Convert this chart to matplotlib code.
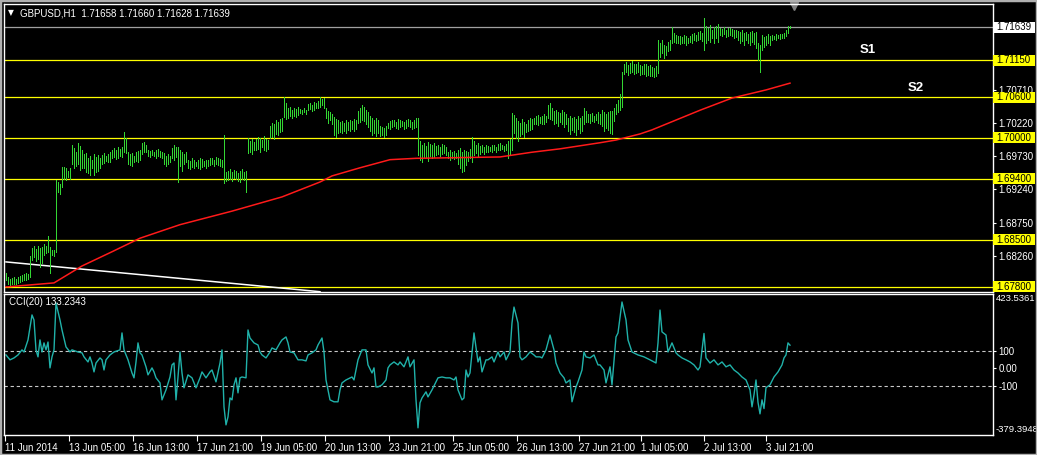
import numpy as np
import matplotlib; matplotlib.use('Agg')
import matplotlib.pyplot as plt
from matplotlib.patches import Rectangle
from matplotlib.transforms import IdentityTransform, blended_transform_factory
plt.rcParams['font.family'] = ['Liberation Sans', 'DejaVu Sans']

# GBPUSD H1 bars, high/low in pips above 1.6700 (one per hour, oldest first)
bar_high = [
    101, 95, 92, 93, 94, 92, 95, 96, 97, 99, 100, 99, 126,
    138, 140, 136, 141, 137, 139, 143, 140, 156, 139, 135, 134, 238,
    235, 232, 257, 257, 255, 252, 256, 290, 285, 280, 292, 288, 282, 276,
    278, 270, 274, 268, 276, 272, 275, 270, 275, 278, 274, 277, 279,
    283, 285, 282, 286, 284, 287, 309, 300, 280, 276, 278, 274, 279, 281, 283,
    292, 294, 290, 282, 281, 283, 280, 282, 284, 281, 279, 278, 274, 276, 273,
    285, 289, 286, 287, 282, 279, 276, 280,
    268, 266, 270, 267, 265, 268, 271, 269, 266, 268,
    268, 270, 271, 268, 272, 270, 269, 267, 304,
    250, 252, 254, 250, 253, 251, 249, 252, 254, 250, 252,
    300, 296, 298, 294, 298, 302, 300, 297, 303, 299, 297,
    318, 322, 320, 326, 324, 328, 330, 360, 352,
    344, 346, 342, 345, 343, 346, 343, 342, 344, 341,
    350, 352, 349, 353, 351, 354, 360, 358, 359, 345, 340, 338, 336, 331, 328, 326,
    323, 325, 322, 326, 324, 327, 325, 328, 327, 340, 344, 349, 346, 342,
    338, 332, 329, 326, 330, 327, 318, 316, 315, 318,
    322, 325, 327, 326, 324, 328, 327, 325, 323, 326, 328, 327, 324, 326, 329, 330,
    296, 290, 293, 288, 294, 291, 289, 292, 288, 290, 287, 291, 289, 286,
    280, 282, 279, 281, 278, 282, 285, 280, 283, 281, 280, 284, 301,
    296, 290, 292, 288, 290, 286, 289,
    288, 286, 290, 289, 287, 291, 292, 290, 288, 291, 295, 298, 337,
    334, 330, 325, 322, 328, 324, 321, 326, 330, 328,
    330, 332, 334, 331, 333, 335, 332, 349, 352,
    344, 340, 342, 338, 337, 341, 339, 336, 330, 332, 329, 331, 328, 333, 330, 332,
    345, 340, 336, 335, 337, 333, 335, 338, 336, 341, 338, 336, 339, 340,
    340, 345, 350, 356, 365, 397,
    410, 412, 408, 411, 413, 409, 410, 412, 408, 407, 410, 409, 406, 408, 405, 404, 406,
    445, 440, 445, 438, 436, 442, 444, 464,
    455, 452, 450, 451, 449, 452, 450, 448, 451, 453, 455, 452, 456, 458, 455, 477,
    465, 462, 467, 460, 464, 466, 468,
    463, 461, 464, 460, 462, 463, 461, 459, 460,
    458, 456, 459, 455, 457, 454, 456, 458, 455, 457, 440, 437,
    452, 449, 451, 453, 450, 452, 451, 453, 452, 454, 453, 455, 460, 466, 466,
]
bar_low = [
    90, 85, 83, 84, 85, 84, 86, 87, 89, 90, 91, 92, 95,
    120, 124, 119, 122, 110, 116, 127, 130, 131, 101, 127, 126, 132,
    220, 218, 228, 240, 238, 242, 240, 262, 255, 258, 262, 253, 256, 255,
    250, 248, 245, 255, 246, 250, 252, 256, 262, 263, 266, 264, 265,
    270, 272, 269, 271, 273, 272, 280, 278, 262, 260, 258, 264, 266, 265, 268,
    277, 279, 280, 274, 272, 275, 273, 271, 274, 272, 270, 262, 258, 261, 264,
    270, 268, 272, 235, 258, 252, 262, 265,
    256, 254, 257, 255, 258, 256, 254, 257, 259, 255,
    258, 260, 261, 259, 262, 260, 258, 257, 234,
    236, 238, 240, 236, 241, 239, 237, 235, 240, 238, 220,
    278, 280, 276, 282, 282, 284, 280, 286, 283, 281, 284,
    300, 302, 298, 306, 304, 309, 310, 331, 328,
    330, 332, 329, 333, 331, 334, 337, 336, 338, 336,
    341, 343, 340, 342, 344, 345, 346, 348, 345, 330, 322, 326, 320, 305, 302, 308,
    309, 307, 311, 308, 312, 310, 313, 311, 314, 322, 324, 326, 325, 320,
    316, 310, 305, 308, 303, 307, 303, 304, 302, 305,
    315, 314, 316, 317, 315, 313, 316, 317, 314, 315, 317, 316, 314, 315, 316, 275,
    268, 265, 272, 270, 266, 274, 271, 272, 275, 277, 274, 276, 278, 275,
    270, 268, 271, 269, 270, 262, 255, 250, 252, 260, 266, 270, 264,
    275, 278, 273, 276, 279, 277, 280,
    279, 281, 280, 282, 280, 283, 282, 284, 281, 283, 270, 275, 282,
    308, 300, 296, 303, 306, 302, 309, 310, 312, 314,
    320, 321, 319, 322, 320, 321, 323, 330, 328,
    326, 320, 322, 318, 323, 320, 316, 321, 310, 306, 312, 309, 305, 313, 308, 311,
    320, 323, 324, 322, 325, 323, 326, 322, 321, 318, 310, 315, 312, 308,
    306, 325, 336, 338, 342, 346,
    395, 397, 393, 396, 398, 394, 396, 397, 393, 394, 395, 392, 393, 391, 392, 390, 391,
    396, 420, 426, 418, 422, 428, 430, 440,
    442, 440, 441, 439, 441, 440, 438, 440, 442, 441, 444, 443, 445, 446, 443, 430,
    440, 445, 442, 447, 441, 448, 442,
    452, 450, 453, 449, 451, 452, 450, 448, 449,
    445, 440, 443, 438, 444, 441, 437, 442, 439, 433, 415, 397,
    430, 435, 438, 440, 437, 445, 446, 445, 447, 446, 448, 447, 450, 455, 463,
]

# moving average (red) and trend line (white), read at a few bars
ma_bar = [0, 24, 38, 53, 67, 87, 113, 138, 157, 163, 177, 192, 205, 247, 263, 277,
          297, 305, 317, 323, 347, 363, 380, 392]
ma_pips = [80, 86, 111, 132, 152, 172, 192, 213, 235, 244, 256, 268, 270, 272, 279, 284,
           293, 297, 306, 312, 341, 359, 371, 381]
trend_bar = [0, 157]
trend_pips = [117, 73]

levels = [1.71150, 1.70600, 1.70000, 1.69400, 1.68500, 1.67800]
bid = 1.71639
price_ticks = [1.68260, 1.68750, 1.69240, 1.69730, 1.70220, 1.70710, 1.71200]

cci_bar = [0, 2, 4, 6, 8, 9, 11, 13, 14, 15, 16, 17, 18, 19, 20, 21, 22, 23, 24, 25, 27, 28,
           30, 32, 33, 36, 38, 39, 41, 42, 43, 44, 45, 47, 48, 49, 50, 52, 54, 57, 58, 59, 61,
           63, 64, 65, 66, 67, 68, 70, 71, 73, 74, 75, 77, 78, 80, 82, 83, 84, 85, 86, 87, 88,
           89, 91, 93, 95, 97, 98, 100, 102, 103, 105, 107, 108, 109, 110, 111, 112, 113, 114,
           115, 116, 117, 118, 120, 121, 122, 124, 126, 127, 128, 130, 132, 133, 135, 137, 138,
           140, 141, 142, 144, 146, 148, 150, 151, 153, 155, 156, 158, 159, 160, 162, 164, 166,
           167, 168, 170, 173, 174, 176, 178, 180, 181, 183, 184, 185, 186, 188, 190, 191, 192,
           194, 196, 197, 199, 201, 202, 204, 205, 206, 207, 208, 210, 211, 213, 215, 216, 218,
           220, 222, 224, 225, 226, 228, 229, 230, 231, 232, 234, 236, 237, 238, 240, 241, 243,
           244, 246, 247, 249, 250, 252, 253, 254, 256, 257, 258, 260, 262, 264, 265, 267, 268,
           270, 272, 274, 275, 277, 279, 280, 282, 283, 285, 286, 288, 289, 290, 292, 294, 296,
           297, 299, 300, 302, 303, 305, 306, 308, 310, 311, 313, 316, 319, 322, 325, 326, 327,
           328, 330, 331, 333, 335, 336, 338, 340, 342, 344, 346, 347, 349, 350, 352, 354, 356,
           358, 360, 362, 364, 366, 368, 370, 372, 373, 374, 375, 376, 377, 378, 379, 380, 382,
           384, 386, 388, 389, 390, 391, 392]
cci_val = [77, 49, 60, 77, 106, 94, 163, 306, 277, 106, 66, 163, 94, 146, 106, 151, 3, 66, 106,
           374, 277, 220, 123, 94, 106, 94, 89, 66, 37, 66, 31, -20, 31, 60, 49, -9, 49, 77, 94,
           106, 203, 106, 49, -26, -54, 37, 146, 89, 77, 9, -37, 3, -20, -54, -83, -180, -123,
           -49, 20, 31, -180, -49, 94, -26, -111, -37, -54, -111, -54, -20, -54, -20, -9, -77,
           31, 106, -220, -323, -277, -169, -180, -94, -54, -140, -54, -49, -54, 220, 174, 146,
           134, 94, 77, 60, 94, 117, 106, 146, 163, 180, 146, 94, 89, 49, 49, 43, 77, 89, 106,
           134, 174, 94, -66, -180, -191, -191, -123, -83, -66, -49, -66, 49, 106, 106, 20, -26,
           3, -106, -106, -94, -66, 3, 20, 37, 20, 37, 9, 66, 9, 49, -180, -340, -197, -169,
           -134, -163, -123, -77, -54, -49, -54, -54, -66, -49, -123, -180, -169, -9, -49, -26,
           203, 37, 66, -20, 49, 49, 66, 37, 94, 66, 94, 49, 94, 260, 351, 260, 66, 49, 66, 94,
           77, 66, 66, 60, 106, 191, 106, 31, -26, -54, -83, -66, -191, -106, -77, -9, 94, 66,
           60, 77, 20, 20, -9, -83, 9, -94, 180, 203, 380, 277, 163, 94, 77, 66, 49, 31, 146,
           334, 209, 191, 94, 146, 89, 77, 60, 49, 37, 20, -9, 9, 200, 60, 31, 49, 20, 37, 9, 20,
           -9, -26, -49, -66, -123, -220, -151, -66, -194, -260, -180, -230, -110, -94, -49, -20,
           20, 60, 77, 146, 133]
cci_top, cci_bottom = 423.5361, -379.3948

tick_bar = [-0.5, 31.5, 63.5, 95.5, 127.5, 159.5, 191.5, 223.5, 255.5, 286.5, 317.5, 349, 380]
tick_labels = ['11 Jun 2014', '13 Jun 05:00', '16 Jun 13:00', '17 Jun 21:00', '19 Jun 05:00',
               '20 Jun 13:00', '23 Jun 21:00', '25 Jun 05:00', '26 Jun 13:00', '27 Jun 21:00',
               '1 Jul 05:00', '2 Jul 13:00', '3 Jul 21:00']

W, H = 1037, 455
fig = plt.figure(figsize=(W / 100, H / 100), dpi=100, facecolor='black')
ax = fig.add_axes([4 / W, 1 - 291.5 / H, 989 / W, 287.5 / H], facecolor='black')
ax2 = fig.add_axes([4 / W, 1 - 435 / H, 989 / W, 141.5 / H], facecolor='black')

for a in (ax, ax2):
    a.set_xlim(-1, 493.5)
    for s in a.spines.values():
        s.set_color('white'); s.set_linewidth(1)
    a.yaxis.tick_right()
    a.tick_params(axis='y', colors='white', length=2.5, width=0.8, pad=1.5, labelsize=7)

pip = 1e-4
hi = 1.67 + np.array(bar_high) * pip
lo = 1.67 + np.array(bar_low) * pip
idx = np.arange(len(hi))
ax.set_ylim(1.67733, 1.71979)

for lv in levels:
    ax.axhline(lv, color='#ffff00', lw=0.9, zorder=1)
ax.axhline(bid, color='#a0a0a0', lw=0.9, zorder=1)
ax.vlines(idx, lo, hi, color='#33d633', lw=0.6, antialiased=False, zorder=3)
ax.plot(ma_bar, 1.67 + np.array(ma_pips) * pip, color='#ff1a1a', lw=1.1, zorder=4)
ax.plot(trend_bar, 1.67 + np.array(trend_pips) * pip, color='white', lw=1.1, zorder=2)

ax.set_xticks([])
ax.set_yticks(price_ticks, labels=[f'{t:.5f}' for t in price_ticks[:-1]] + [''])

ax.text(431, 1.7130, 'S1', color='white', fontsize=9.5, fontweight='bold',
        ha='center', va='center')
ax.text(455, 1.7074, 'S2', color='white', fontsize=9.5, fontweight='bold',
        ha='center', va='center')
ax.plot([len(hi) + 1], [0.992], marker='v', ms=6, color='#808080', clip_on=False,
        transform=blended_transform_factory(ax.transData, ax.transAxes))

# highlighted price boxes on the right scale
fig.canvas.draw()
def price_box(axis, value, face):
    y = axis.transData.transform((0, value))[1]
    fig.patches.append(Rectangle((993, y - 5.5), 42, 11, transform=IdentityTransform(),
                                 facecolor=face, edgecolor='none', zorder=5))
    fig.text(996.5 / W, y / H, f'{value:.5f}', color='black', fontsize=7,
             va='center', ha='left', zorder=6)

for lv in levels:
    price_box(ax, lv, '#ffff00')
price_box(ax, bid, 'white')

fig.text(8 / W, 1 - 13 / H, '\u25bc', color='white', fontsize=5.5, va='center',
         family=['DejaVu Sans'])
fig.text(20 / W, 1 - 13 / H, 'GBPUSD,H1  1.71658 1.71660 1.71628 1.71639',
         color='white', fontsize=7, va='center')

# CCI panel
ax2.set_ylim(-381, 428.6)
ax2.axhline(100, color='#c8c8c8', lw=0.8, ls=(0, (3, 2.5)))
ax2.axhline(-100, color='#c8c8c8', lw=0.8, ls=(0, (3, 2.5)))
ax2.plot(cci_bar, cci_val, color='#20b2aa', lw=1.0)
ax2.set_yticks([100, 0, -100], labels=['100', '0.00', '-100'])
ax2.text(1.003, 0.995, f'{cci_top:.4f}', transform=ax2.transAxes, color='white',
         fontsize=6.8, va='top', ha='left')
ax2.text(1.003, 0.01, f'{cci_bottom:.4f}', transform=ax2.transAxes, color='white',
         fontsize=6.8, va='bottom', ha='left')
ax2.text(0.005, 0.975, 'CCI(20) 133.2343', transform=ax2.transAxes, color='white',
         fontsize=7, va='top', ha='left')

ax2.set_xticks(tick_bar, labels=tick_labels)
ax2.tick_params(axis='x', colors='white', length=4, width=0.8, pad=2, labelsize=7)
for lbl in ax2.get_xticklabels():
    lbl.set_ha('left')

fig.patches.append(Rectangle((0, 0), 1, 1, transform=fig.transFigure, fill=False,
                             edgecolor='#b0b0b0', lw=2.5, zorder=10))

fig.savefig('out.png', dpi=100, facecolor='black')
